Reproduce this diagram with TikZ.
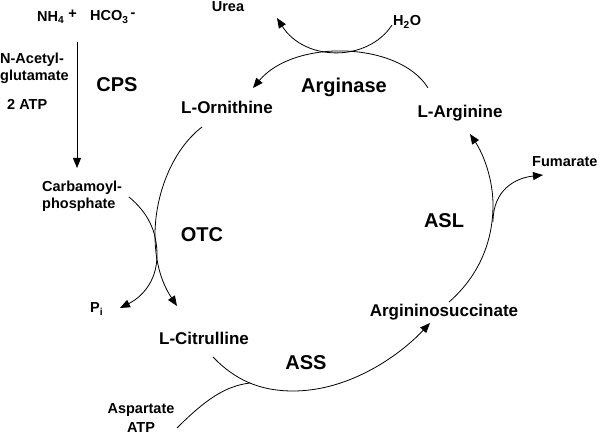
\documentclass[tikz,border=0pt]{standalone}
\usepackage{fontspec}
\setmainfont{Liberation Sans}
\usetikzlibrary{arrows.meta}
\tikzset{
  sm/.style={font=\bfseries\fontsize{14.5}{17}\selectfont, inner sep=0pt},
  md/.style={font=\bfseries\fontsize{17}{20}\selectfont, inner sep=0pt},
  lg/.style={font=\bfseries\fontsize{20}{24}\selectfont, inner sep=0pt},
  conn/.style={line width=0.8pt},
  arr/.style={conn, -{Triangle[length=10,width=8]}}
}
\begin{document}
\begin{tikzpicture}[x=1pt,y=-1pt]
\useasboundingbox (0,0) rectangle (600,435);
% texts
\node[sm, anchor=west] (nh) at (37,17) {NH\textsubscript{4}\hspace{4pt}\raisebox{3pt}{+}};
\node[sm, anchor=west] (hco) at (90,17) {HCO\textsubscript{3}\hspace{2pt}\raisebox{3pt}{-}};
\node[sm, anchor=west] (nag) at (0,60) {N-Acetyl-};
\node[sm, anchor=west] (glu) at (0,77) {glutamate};
\node[sm, anchor=west] (atpa) at (7,104) {2 ATP};
\node[lg] (cps) at (117,85) {CPS};
\node[md] (orn) at (227,107) {L-Ornithine};
\node[sm] (urea) at (228,7) {Urea};
\node[sm, anchor=west] (h2o) at (393,22) {H\textsubscript{2}O};
\node[lg] (argase) at (344,87) {Arginase};
\node[md] (arg) at (460,113) {L-Arginine};
\node[sm, anchor=west] (fum) at (532,162) {Fumarate};
\node[lg] (asl) at (444,221) {ASL};
\node[md] (ais) at (444,312) {Argininosuccinate};
\node[lg] (ass) at (306,363) {ASS};
\node[md] (cit) at (204,338) {L-Citrulline};
\node[lg] (otc) at (202,235) {OTC};
\node[sm, anchor=west] (pi) at (90,309) {P\textsubscript{i}};
\node[sm, anchor=west, align=left] (carb) at (42,196) {Carbamoyl-\\phosphate};
\node[sm, align=center] (asp) at (141,418) {Aspartate\\[2pt]ATP};
% connector coordinates
\coordinate (cpsS) at (77,42);
\coordinate (cpsE) at (77,168);
\coordinate (argS) at (428,88);
\coordinate (ornE) at (253,88);
\coordinate (h2oS) at (392,25);
\coordinate (ureaE) at (277,18);
\coordinate (ornS) at (202,127);
\coordinate (citE) at (177,306);
\coordinate (carbS) at (129,197);
\coordinate (piE) at (120,308);
\coordinate (citS) at (213,357);
\coordinate (aisE) at (430,323);
\coordinate (aspS) at (177,428);
\coordinate (aisS) at (449,302);
\coordinate (argE) at (470,134);
\coordinate (fumS) at (493,222);
\coordinate (fumE) at (543,175);
% connectors
\draw[arr] (cpsS) -- (cpsE);
\draw[arr] (argS) .. controls (400,42) and (295,38) .. (ornE);
\draw[arr] (h2oS) .. controls (368,62) and (305,62) .. (ureaE);
\draw[arr] (ornS) .. controls (172,150) and (155,195) .. (155,235) .. controls (155,265) and (163,285) .. (citE);
\draw[arr] (carbS) .. controls (147,212) and (157,230) .. (157,255) .. controls (157,283) and (140,298) .. (piE);
\draw[arr] (citS) .. controls (235,380) and (260,391) .. (293,391) .. controls (350,391) and (400,355) .. (aisE);
\draw[conn] (aspS) .. controls (205,400) and (225,386) .. (250,383);
\draw[arr] (aisS) .. controls (480,275) and (493,240) .. (493,205) .. controls (493,180) and (484,155) .. (argE);
\draw[arr] (fumS) .. controls (493,190) and (515,178) .. (fumE);
\end{tikzpicture}
\end{document}
